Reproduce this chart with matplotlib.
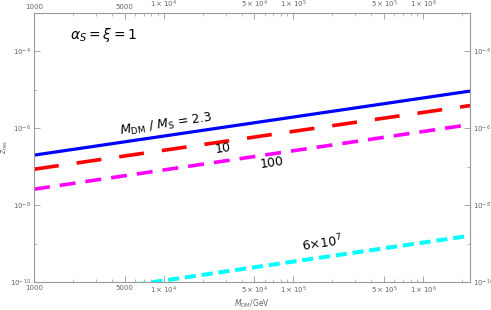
import matplotlib
matplotlib.use('Agg')
import matplotlib.pyplot as plt
import matplotlib.ticker as mticker
import numpy as np

# end points of each curve (M_DM in GeV, z_res)
m_dm = [1000, 2.3e6]
z_23 = [2.0e-7, 9.3e-6]       # M_DM/M_S = 2.3
z_10 = [8.6e-8, 3.9e-6]       # 10
z_100 = [2.6e-8, 1.25e-6]     # 100
z_6e7 = [3.5e-11, 1.6e-9]     # 6x10^7

xticks_major = [1000, 5000, 1e4, 5e4, 1e5, 5e5, 1e6]
xtick_labels = ['1000', '5000', r'$1\times10^{4}$', r'$5\times10^{4}$',
                r'$1\times10^{5}$', r'$5\times10^{5}$', r'$1\times10^{6}$']
yticks_major = [1e-10, 1e-8, 1e-6, 1e-4]
ytick_labels = [r'$10^{-10}$', r'$10^{-8}$', r'$10^{-6}$', r'$10^{-4}$']

plt.rcParams['lines.scale_dashes'] = False
plt.rcParams['mathtext.fontset'] = 'dejavusans'

fig = plt.figure(figsize=(4.91, 3.10), dpi=100)
ax = fig.add_axes([34/491, 1-282/310, 436/491, 269/310])

ax.plot(m_dm, z_23, color='#0000ff', lw=2.3, solid_capstyle='butt')
ax.plot(m_dm, z_10, color='#ff0000', lw=2.6, dashes=(18, 13))
ax.plot(m_dm, z_100, color='#ff00ff', lw=2.6, dashes=(11.5, 7.2))
ax.plot(m_dm, z_6e7, color='#00ffff', lw=2.9, dashes=(8, 4.2))

ax.set_xscale('log')
ax.set_yscale('log')
ax.set_xlim(1000, 2.3e6)
ax.set_ylim(1e-10, 1e-3)

gray = '#999999'
for s in ax.spines.values():
    s.set_color(gray)
    s.set_linewidth(0.8)

ax.xaxis.set_major_locator(mticker.FixedLocator(xticks_major))
ax.xaxis.set_major_formatter(mticker.FixedFormatter(xtick_labels))
ax.xaxis.set_minor_locator(mticker.LogLocator(base=10, subs=np.arange(2, 10)))
ax.xaxis.set_minor_formatter(mticker.NullFormatter())
ax.yaxis.set_major_locator(mticker.FixedLocator(yticks_major))
ax.yaxis.set_major_formatter(mticker.FixedFormatter(ytick_labels))
ax.yaxis.set_minor_locator(mticker.FixedLocator([1e-9, 1e-7, 1e-5, 1e-3]))
ax.yaxis.set_minor_formatter(mticker.NullFormatter())

ax.tick_params(which='both', direction='in', top=True, right=True,
               labeltop=True, labelright=True, color=gray,
               labelcolor='#666666', labelsize=5, pad=2)
ax.tick_params(which='major', length=4, width=0.6)
ax.tick_params(which='minor', length=2, width=0.5)

ax.set_xlabel(r'$M_{\rm DM}$/GeV', fontsize=5.5, color='#666666', labelpad=1)
ax.set_ylabel(r'$z_{\rm res}$', fontsize=5.5, color='#666666', labelpad=0)

ax.text(0.16, 0.92, r'$\alpha_S=\xi=1$', transform=ax.transAxes,
        fontsize=10, ha='center', va='center')

def place(txt, px, py, size=9):
    # px, py: pixel position from top-left of the figure
    ax.text(px, 310 - py, txt, transform=None, fontsize=size,
            ha='center', va='center', rotation=8.4)

place(r'$M_{\rm DM}\ /\ M_{\rm S}$ = 2.3', 166, 125)
place('10', 223, 148)
place('100', 272, 163)
place(r'6$\times$10$^{7}$', 322, 243)

fig.savefig('out.png', dpi=100)
